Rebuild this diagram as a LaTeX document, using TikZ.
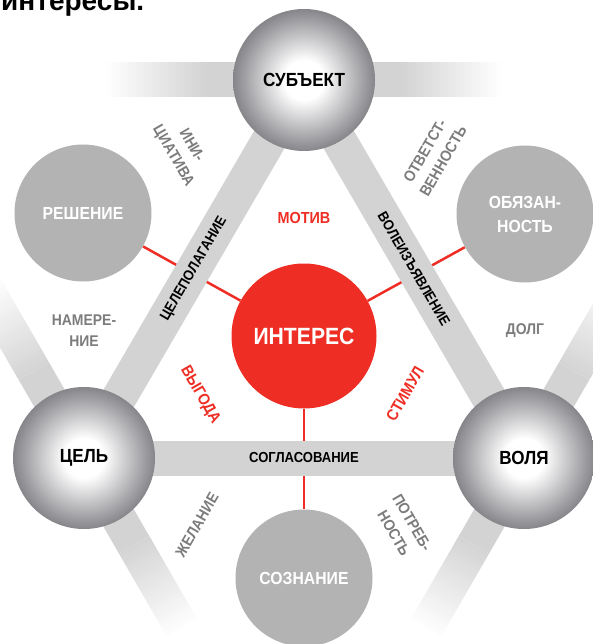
\documentclass[tikz,border=0pt]{standalone}
\usepackage{fontspec}
\setmainfont{Liberation Sans}[FakeStretch=0.9]
\newfontfamily\titlefont{Liberation Sans}
\usetikzlibrary{backgrounds}

\definecolor{barGray}{HTML}{D3D3D3}
\definecolor{discGray}{HTML}{B3B3B3}
\definecolor{labelGray}{HTML}{7C7C7C}
\definecolor{interestRed}{HTML}{EE2E24}
\definecolor{sphereEdge}{HTML}{85858A}
\pgfdeclareradialshading{sphere}{\pgfpoint{0bp}{0bp}}{color(0bp)=(white); color(7bp)=(white); color(25bp)=(sphereEdge); color(50bp)=(sphereEdge)}

\begin{document}
\begin{tikzpicture}[x=1pt, y=-1pt,
    sphere/.style={circle, minimum size=142pt, inner sep=0pt, shade, shading=sphere, font=\fontsize{19}{21}\selectfont\bfseries},
    disc/.style={circle, minimum size=137pt, inner sep=0pt, fill=discGray, text=white, align=center, font=\fontsize{17.5}{24}\selectfont\bfseries},
    core/.style={circle, minimum size=145pt, inner sep=0pt, fill=interestRed, text=white, font=\fontsize{23.5}{26}\selectfont\bfseries},
    bar/.style={line width=35pt, draw=barGray},
    bartext/.style={inner sep=0pt, font=\fontsize{14.5}{16}\selectfont\bfseries},
    redline/.style={draw=interestRed, line width=2.5pt},
    redtext/.style={text=interestRed, font=\fontsize{16}{18}\selectfont\bfseries},
    graytext/.style={text=labelGray, align=center, font=\fontsize{15.5}{21}\selectfont\bfseries}]

    \useasboundingbox (0,0) rectangle (593,644);
    \clip (0,0) rectangle (593,644);

    % cut-off heading line
    \node[anchor=base west, inner sep=0pt, font=\titlefont\bfseries\fontsize{28}{30}\selectfont] (title) at (1,11) {интересы.};

    % three spheres
    \node[sphere] (subj) at (304,80) {СУБЪЕКТ};
    \node[sphere] (goal) at (84,458) {ЦЕЛЬ};
    \node[sphere] (will) at (524,458) {ВОЛЯ};

    % centre and flat discs
    \node[core] (interest) at (304,336) {ИНТЕРЕС};
    \node[disc] (decision) at (83,213) {РЕШЕНИЕ};
    \node[disc] (duty) at (525,214) {ОБЯЗАН-\\НОСТЬ};
    \node[disc] (mind) at (304,578) {СОЗНАНИЕ};

    \begin{pgfonlayer}{background}
        \clip (0,0) rectangle (593,644);
        % bars running out of each sphere, fading to white
        \foreach \c/\a in {subj/0, subj/180, goal/240, goal/60, will/300, will/120} {
            \draw[bar] (\c.center) -- ([shift={(\a:100)}]\c.center);
            \foreach \i in {0,...,24} {
                \pgfmathsetmacro\ra{100+4*\i}
                \pgfmathsetmacro\rb{\ra+5}
                \pgfmathtruncatemacro\p{96-4*\i}
                \draw[bar, draw=barGray!\p!white] ([shift={(\a:\ra)}]\c.center) -- ([shift={(\a:\rb)}]\c.center);
            }
        }
        % red links from the centre
        \draw[redline] (interest) -- (decision);
        \draw[redline] (interest) -- (duty);
        \draw[redline] (interest) -- (mind);
        % triangle
        \draw[bar] (goal.center) -- (subj.center);
        \draw[bar] (subj.center) -- (will.center);
        \draw[bar] (goal.center) -- (will.center);
    \end{pgfonlayer}

    % bar labels
    \path (goal.center) -- (subj.center) node[midway, sloped, bartext] (plan) {ЦЕЛЕПОЛАГАНИЕ};
    \path (subj.center) -- (will.center) node[midway, sloped, bartext] (volition) {ВОЛЕИЗЪЯВЛЕНИЕ};
    \path (goal.center) -- (will.center) node[midway, bartext] (accord) {СОГЛАСОВАНИЕ};

    % red labels round the centre
    \node[redtext] (motive) at (304,218) {МОТИВ};
    \node[redtext, rotate=-60] (profit) at (200,395) {ВЫГОДА};
    \node[redtext, rotate=60] (stimulus) at (405,394) {СТИМУЛ};

    % grey labels
    \node[graytext, rotate=-60] (initiative) at (182,151) {ИНИ-\\ЦИАТИВА};
    \node[graytext, rotate=60] (responsibility) at (434,156) {ОТВЕТСТ-\\ВЕННОСТЬ};
    \node[graytext] (intention) at (84,331) {НАМЕРЕ-\\НИЕ};
    \node[graytext] (debt) at (525,331) {ДОЛГ};
    \node[graytext, rotate=60] (desire) at (197,525) {ЖЕЛАНИЕ};
    \node[graytext, rotate=-60] (need) at (403,528) {ПОТРЕБ-\\НОСТЬ};

\end{tikzpicture}
\end{document}
